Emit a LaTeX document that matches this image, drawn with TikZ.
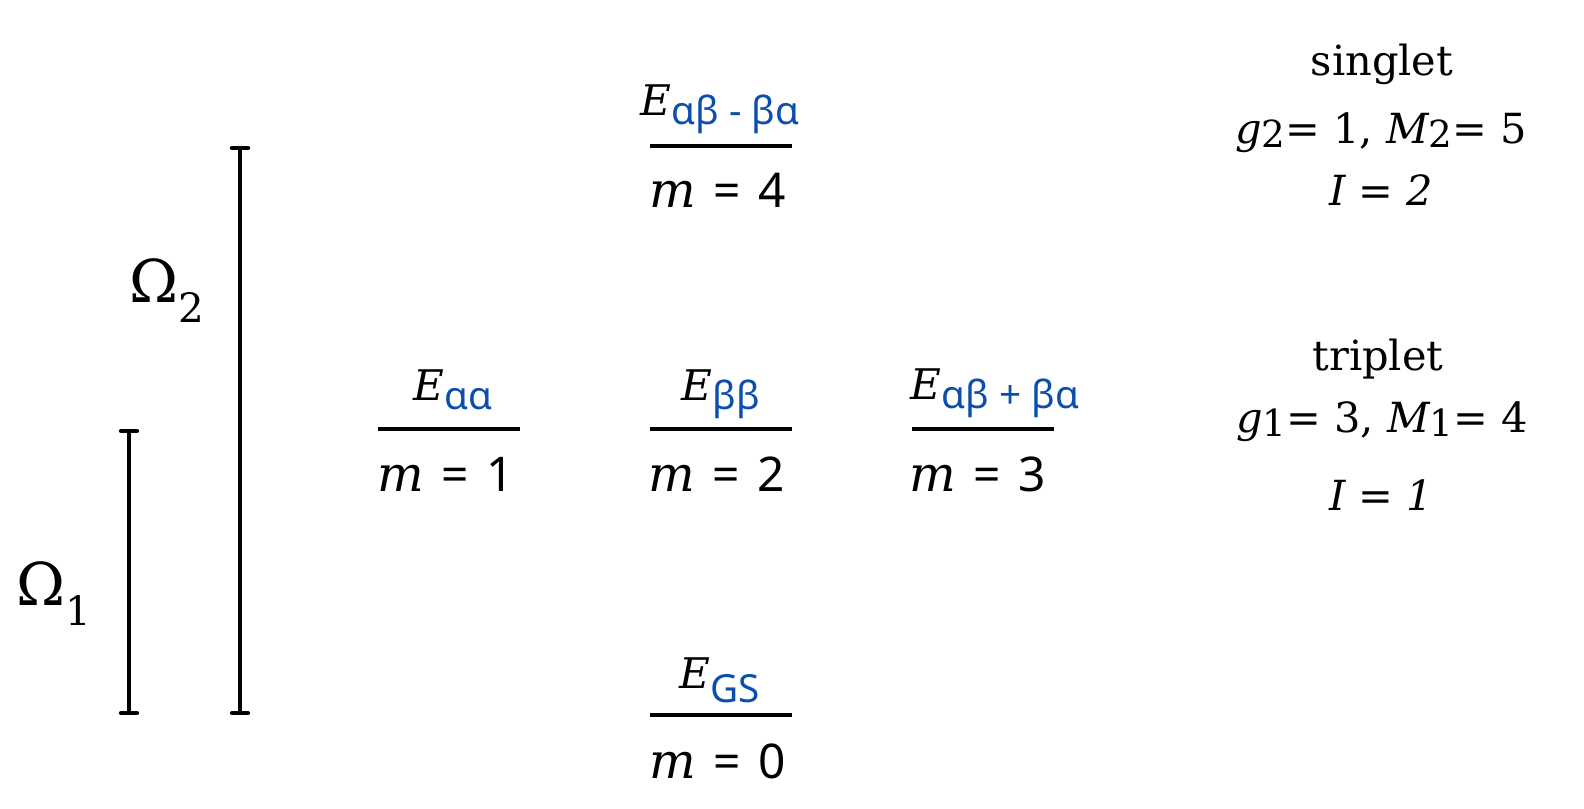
\documentclass[tikz,border=0pt]{standalone}
\usepackage{fontspec}
\setmainfont{DejaVu Serif}
\newfontfamily\nsans{Noto Sans}
\definecolor{subblue}{HTML}{0B4EAD}
\newcommand{\Elab}[2][2.8pt]{{\fontsize{12}{14}\selectfont\itshape E}\raisebox{-#1}{\fontsize{11}{13}\selectfont\nsans\color{subblue}#2}}
\newcommand{\mlab}[1]{{\fontsize{14}{16}\selectfont\itshape m}\hspace{5pt}{\fontsize{13.6}{16}\selectfont\nsans =\hspace{5pt}#1}}
\newcommand{\glab}[4]{{\itshape g}\raisebox{-1.4pt}{\fontsize{10.6}{12}\selectfont #1}= #2, {\itshape M}\raisebox{-1.4pt}{\fontsize{10.6}{12}\selectfont #3}= #4}
\newcommand{\Omlab}[1]{{\fontsize{16.8}{18}\selectfont Ω}\raisebox{-5.7pt}{\fontsize{11.5}{12}\selectfont #1}}
\tikzset{
  level/.style={line width=1.2pt},
  bar/.style={line width=1.2pt, line cap=round},
  lab/.style={anchor=base, inner sep=0pt, outer sep=0pt},
  rlab/.style={lab, font=\fontsize{11.8}{14}\selectfont},
}
\begin{document}
\begin{tikzpicture}[x=0.01cm,y=-0.01cm]
\useasboundingbox (0,0) rectangle (1584,808);
% level lines
\coordinate (l1a) at (378,429); \coordinate (l1b) at (520,429);
\coordinate (l2a) at (650,429); \coordinate (l2b) at (792,429);
\coordinate (l3a) at (912,429); \coordinate (l3b) at (1054,429);
\coordinate (l4a) at (650,146); \coordinate (l4b) at (792,146);
\coordinate (l0a) at (650,715); \coordinate (l0b) at (792,715);
\draw[level] (l1a) -- (l1b);
\draw[level] (l2a) -- (l2b);
\draw[level] (l3a) -- (l3b);
\draw[level] (l4a) -- (l4b);
\draw[level] (l0a) -- (l0b);
% energy labels
\node[lab] (e1) at (453,400) {\Elab{αα}};
\node[lab] (e2) at (721,400) {\Elab{ββ}};
\node[lab] (e3) at (995,399) {\Elab{αβ + βα}};
\node[lab] (e4) at (720,115) {\Elab{αβ - βα}};
\node[lab] (e0) at (720,688) {\Elab[4pt]{GS}};
% m labels
\node[lab] (m1) at (446,491) {\mlab{1}};
\node[lab] (m2) at (717,491) {\mlab{2}};
\node[lab] (m3) at (978,491) {\mlab{3}};
\node[lab] (m4) at (718,207) {\mlab{4}};
\node[lab] (m0) at (718,778) {\mlab{0}};
% bars
\coordinate (b1t) at (129,431); \coordinate (b1b) at (129,713);
\coordinate (b2t) at (240,148); \coordinate (b2b) at (240,713);
\draw[bar] (b1t) -- (b1b);
\draw[bar] ([xshift=-0.08cm]b1t) -- ([xshift=0.08cm]b1t);
\draw[bar] ([xshift=-0.08cm]b1b) -- ([xshift=0.08cm]b1b);
\draw[bar] (b2t) -- (b2b);
\draw[bar] ([xshift=-0.08cm]b2t) -- ([xshift=0.08cm]b2t);
\draw[bar] ([xshift=-0.08cm]b2b) -- ([xshift=0.08cm]b2b);
\node[lab] (om1) at (54,605) {\Omlab{1}};
\node[lab] (om2) at (167,302) {\Omlab{2}};
% right block
\node[rlab] (sing) at (1382,75) {singlet};
\node[rlab] (g2) at (1381,143) {\glab{2}{1}{2}{5}};
\node[rlab] (i2) at (1381,205) {\itshape I = 2};
\node[rlab] (trip) at (1378,370) {triplet};
\node[rlab] (g1) at (1382,432) {\glab{1}{3}{1}{4}};
\node[rlab] (i1) at (1381,510) {\itshape I = 1};
\end{tikzpicture}
\end{document}
